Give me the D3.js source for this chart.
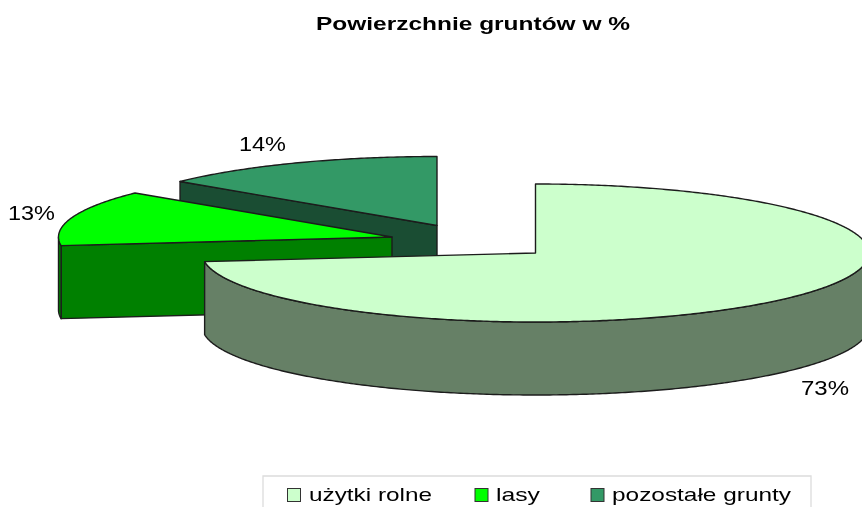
<!DOCTYPE html>
<html>
<head>
<meta charset="utf-8">
<script src="https://d3js.org/d3.v7.min.js"></script>
<style>
html,body{margin:0;padding:0;background:#fff;overflow:hidden}
svg{display:block;filter:blur(0.35px)}
text{font-family:"Liberation Sans",Arial,sans-serif;fill:#000}
</style>
</head>
<body>
<svg id="c" width="862" height="507"></svg>
<script>
const categories = ["użytki rolne", "lasy", "pozostałe grunty"];
const values = [73, 13, 14];
const labels = ["73%", "13%", "14%"];
const topColors = ["#CCFFCC", "#00FF00", "#339966"];
const sideColors = ["#668066", "#008000", "#1A4D33"];
const centers = [[535.5, 253], [392, 237], [437, 225.5]];
const labelBoxes = [[801, 395, 48], [8, 220, 47], [239, 151, 47]];
const legendX = [[287.5, 309, 123], [475, 496, 44], [591, 612, 179]];

const W = 862, H = 507, RX = 333.5, RY = 69, DEPTH = 73;
const svg = d3.select("#c").attr("viewBox", `0 0 ${W} ${H}`);

const arcs = d3.pie().sort(null).value(d => d)(values);

const px = d3.scaleLinear().domain([-1, 1]);
const py = d3.scaleLinear().domain([-1, 1]);
const line = d3.line();

function pt(i, a, dz) {
  px.range([centers[i][0] - RX, centers[i][0] + RX]);
  py.range([centers[i][1] - RY, centers[i][1] + RY]);
  return [px(Math.sin(a)), py(-Math.cos(a)) + (dz || 0)];
}
function arcPts(i, a0, a1, dz) {
  const n = Math.max(2, Math.ceil(Math.abs(a1 - a0) / 0.01));
  return d3.range(n + 1).map(k => pt(i, a0 + (a1 - a0) * k / n, dz));
}

const clip = svg.append("g");
const order = [2, 1, 0]; // back to front

order.forEach(i => {
  const a = arcs[i], g = clip.append("g").attr("class", "slice");
  const c = centers[i];
  const stroke = "#1c1c1c", sw = 1.4;
  const startTop = pt(i, a.startAngle);
  if (Math.sin(a.startAngle) <= 0.001 && i > 0) {
    g.append("path")
      .attr("d", line([startTop, c, [c[0], c[1] + DEPTH], [startTop[0], startTop[1] + DEPTH]]) + "Z")
      .attr("fill", sideColors[i]).attr("stroke", stroke).attr("stroke-width", sw).attr("stroke-linejoin", "round");
  }
  const lo = Math.max(a.startAngle, Math.PI / 2), hi = Math.min(a.endAngle, 3 * Math.PI / 2);
  if (hi > lo) {
    const rim = arcPts(i, lo, hi).concat(arcPts(i, hi, lo, DEPTH));
    g.append("path").attr("d", line(rim) + "Z")
      .attr("fill", sideColors[i]).attr("stroke", stroke).attr("stroke-width", sw).attr("stroke-linejoin", "round");
  }
  const face = [c].concat(arcPts(i, a.startAngle, a.endAngle));
  g.append("path").attr("d", line(face) + "Z")
    .attr("fill", topColors[i]).attr("stroke", stroke).attr("stroke-width", sw).attr("stroke-linejoin", "round");
});

labels.forEach((t, i) => {
  const b = labelBoxes[i];
  svg.append("text").attr("x", b[0]).attr("y", b[1])
    .attr("font-size", 20).attr("textLength", b[2]).attr("lengthAdjust", "spacingAndGlyphs")
    .text(t);
});

svg.append("text").attr("x", 316).attr("y", 29.5)
  .attr("font-size", 18).attr("font-weight", "bold")
  .attr("textLength", 314).attr("lengthAdjust", "spacingAndGlyphs")
  .text("Powierzchnie gruntów w %");

svg.append("path").attr("d", "M263 507V476H811V507")
  .attr("fill", "none").attr("stroke", "#dcdcdc").attr("stroke-width", 1.3);
categories.forEach((t, i) => {
  const l = legendX[i];
  svg.append("rect").attr("x", l[0]).attr("y", 488.5).attr("width", 13).attr("height", 13)
    .attr("fill", topColors[i]).attr("stroke", "#333").attr("stroke-width", 1);
  svg.append("text").attr("x", l[1]).attr("y", 501)
    .attr("font-size", 19).attr("textLength", l[2]).attr("lengthAdjust", "spacingAndGlyphs").text(t);
});
</script>
</body>
</html>
